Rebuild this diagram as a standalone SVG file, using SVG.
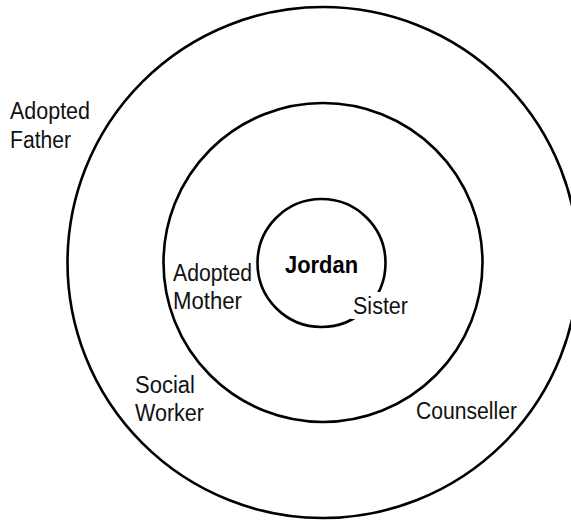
<svg xmlns="http://www.w3.org/2000/svg" width="571" height="520" viewBox="0 0 571 520">
  <style>
    .ring { fill: none; stroke: #000; stroke-width: 2.6; }
    .lbl { font-family: "Liberation Sans", Arial, sans-serif; font-size: 23px; fill: #111; }
    .core { font-family: "Liberation Sans", Arial, sans-serif; font-size: 24px; font-weight: bold; fill: #000; }
  </style>
  <rect width="571" height="520" fill="#fff"/>
  <g id="rings">
    <circle id="outer-ring" class="ring" cx="323" cy="262.5" r="255.5"/>
    <circle id="middle-ring" class="ring" cx="323" cy="262.5" r="159.5"/>
    <circle id="inner-ring" class="ring" cx="321.5" cy="263" r="64"/>
  </g>
  <g id="jordan">
    <text class="core" x="285" y="273" textLength="73" lengthAdjust="spacingAndGlyphs">Jordan</text>
  </g>
  <g id="sister">
    <rect x="351" y="292" width="60" height="27" fill="#fff"/>
    <text class="lbl" x="353" y="314" textLength="55" lengthAdjust="spacingAndGlyphs">Sister</text>
  </g>
  <g id="adopted-mother">
    <text class="lbl" x="173" y="281" textLength="79" lengthAdjust="spacingAndGlyphs">Adopted</text>
    <text class="lbl" x="173" y="309" textLength="69" lengthAdjust="spacingAndGlyphs">Mother</text>
  </g>
  <g id="adopted-father">
    <text class="lbl" x="10" y="119" textLength="80" lengthAdjust="spacingAndGlyphs">Adopted</text>
    <text class="lbl" x="10" y="148" textLength="61" lengthAdjust="spacingAndGlyphs">Father</text>
  </g>
  <g id="social-worker">
    <text class="lbl" x="135" y="393" textLength="60" lengthAdjust="spacingAndGlyphs">Social</text>
    <text class="lbl" x="135" y="421" textLength="69" lengthAdjust="spacingAndGlyphs">Worker</text>
  </g>
  <g id="counseller">
    <text class="lbl" x="416" y="419" textLength="101" lengthAdjust="spacingAndGlyphs">Counseller</text>
  </g>
</svg>
